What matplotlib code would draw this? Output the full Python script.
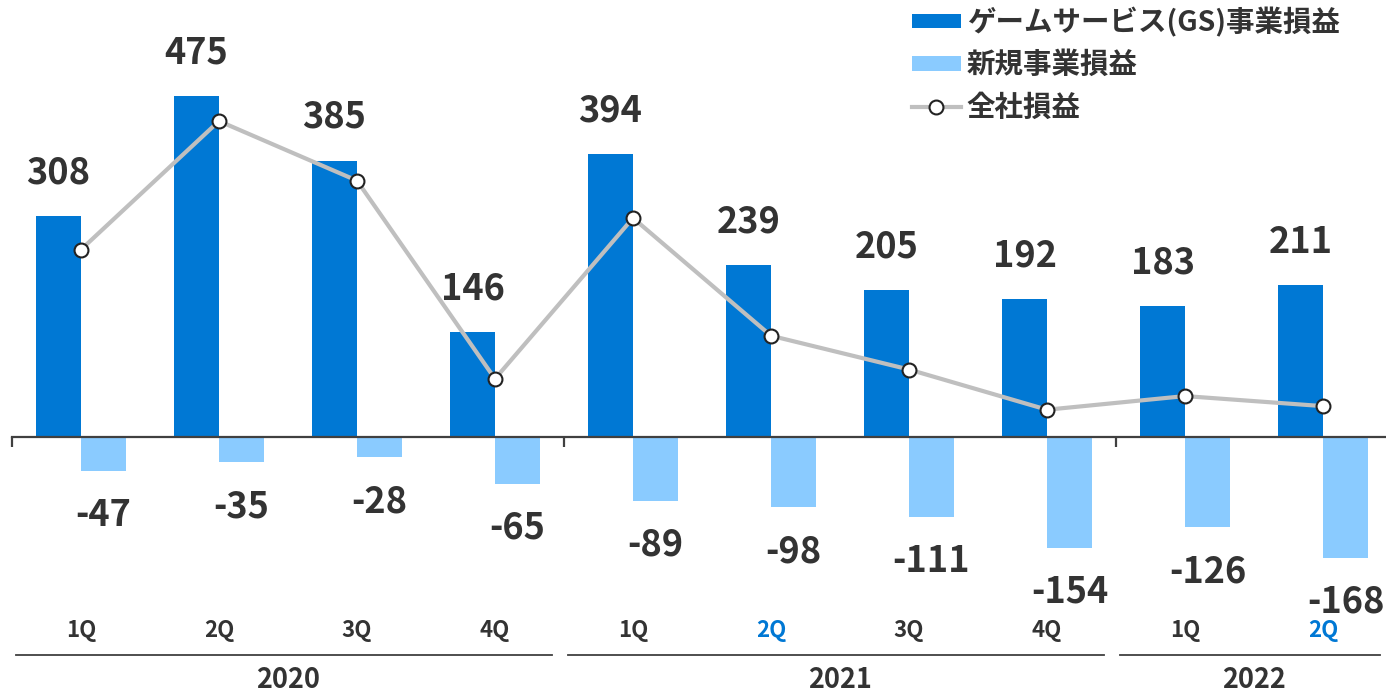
import matplotlib.pyplot as plt
import matplotlib.transforms as mtransforms
from matplotlib.patches import Patch
from matplotlib.lines import Line2D

plt.rcParams['font.family'] = ['Noto Sans CJK JP', 'DejaVu Sans']

# data
years = ['2020', '2021', '2022']
year_sizes = [4, 4, 2]
quarters = ['1Q', '2Q', '3Q', '4Q', '1Q', '2Q', '3Q', '4Q', '1Q', '2Q']
gs_profit = [308, 475, 385, 146, 394, 239, 205, 192, 183, 211]
new_profit = [-47, -35, -28, -65, -89, -98, -111, -154, -126, -168]
total_profit = [261, 440, 357, 81, 305, 141, 94, 38, 57, 43]
highlight = [5, 9]

# style
c_gs = '#0078D4'
c_new = '#8ACBFF'
c_line = '#BFBFBF'
c_text = '#333333'
c_axis = '#404040'

W, H = 1386, 693
fig = plt.figure(figsize=(W / 100, H / 100), dpi=100)
ax = fig.add_axes([12 / W, (H - 600) / H, (W - 12) / W, 600 / H])

x = list(range(len(quarters)))
bw = 0.32
off = 0.163

ax.bar([i - off for i in x], gs_profit, width=bw, color=c_gs, zorder=2)
ax.bar([i + off for i in x], new_profit, width=bw, color=c_new, zorder=2)
ax.plot(x, total_profit, color=c_line, lw=3, marker='o', ms=10,
        mfc='white', mec='#222222', mew=1.5, zorder=3)

for i in x:
    ax.annotate(str(gs_profit[i]), (i - off, gs_profit[i]), xytext=(0, 31),
                textcoords='offset points', ha='center', va='center',
                fontsize=26, fontweight='bold', color=c_text)
    ax.annotate(str(new_profit[i]), (i + off, new_profit[i]), xytext=(0, -32),
                textcoords='offset points', ha='center', va='center',
                fontsize=26, fontweight='bold', color=c_text)

ax.set_xlim(-0.5, -0.5 + (W - 12) / 138)
ax.set_ylim(-227, 608.6)

for s in ['top', 'right', 'left']:
    ax.spines[s].set_visible(False)
ax.spines['bottom'].set_position(('data', 0))
ax.spines['bottom'].set_color(c_axis)
ax.spines['bottom'].set_linewidth(1.6)
ax.set_yticks([])

# group separators as ticks
bounds = [-0.5]
for n in year_sizes:
    bounds.append(bounds[-1] + n)
ax.set_xticks(bounds[:-1])
ax.set_xticklabels([])
ax.tick_params(axis='x', direction='out', length=7.5, width=1.6, color=c_axis)

# category labels below the chart
trans = mtransforms.blended_transform_factory(ax.transData, fig.transFigure)
for i, q in enumerate(quarters):
    col = c_gs if i in highlight else c_text
    ax.text(i, 1 - 631 / H, q, transform=trans, ha='center', va='center',
            fontsize=16, fontweight='bold', color=col, clip_on=False)

for k, yr in enumerate(years):
    lo, hi = bounds[k], bounds[k + 1]
    ax.add_line(Line2D([lo + 0.03, hi - 0.09], [1 - 655 / H] * 2, transform=trans,
                       color=c_axis, lw=1.3, clip_on=False))
    ax.text((lo + hi) / 2, 1 - 680 / H, yr, transform=trans, ha='center',
            va='center', fontsize=19.5, fontweight='bold', color=c_text,
            clip_on=False)

handles = [
    Patch(facecolor=c_gs, label='ゲームサービス(GS)事業損益'),
    Patch(facecolor=c_new, label='新規事業損益'),
    Line2D([0], [0], color=c_line, lw=3, marker='o', ms=10, mfc='white',
           mec='#222222', mew=1.5, label='全社損益'),
]
leg = ax.legend(handles=handles, loc='upper left',
                bbox_to_anchor=(912 / W, 1 - 7 / H), bbox_transform=fig.transFigure,
                frameon=False, fontsize=20.5, handlelength=1.72, handleheight=0.42,
                handletextpad=0.2, labelspacing=0.5, borderpad=0, borderaxespad=0)
for t in leg.get_texts():
    t.set_fontweight('bold')
    t.set_color(c_text)

fig.savefig('out.png', dpi=100)
